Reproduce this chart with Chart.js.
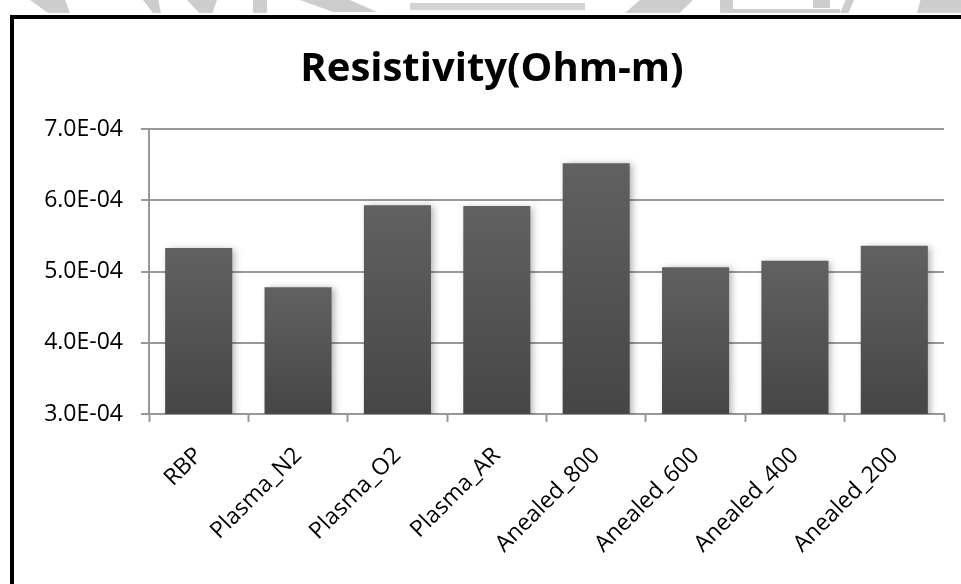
<!DOCTYPE html>
<html>
<head>
<meta charset="utf-8">
<script src="https://cdn.jsdelivr.net/npm/chart.js@4/dist/chart.umd.min.js"></script>
<style>
  html, body { margin: 0; padding: 0; background: #fff; overflow: hidden; }
  #wrap { position: relative; width: 961px; height: 584px; }
  .wm { position: absolute; background: #cdcdcd; }
  #frame {
    position: absolute; left: 10px; top: 15px; width: 1000px; height: 700px;
    border-left: 4px solid #000; border-top: 4px solid #000;
  }
  #chartBox { position: absolute; left: 0; top: 0; width: 961px; height: 584px; }
</style>
</head>
<body>
<div id="wrap">
  <!-- faint watermark strip above the frame -->
  <div class="wm" style="left:30px;top:0;width:40px;height:13px;clip-path:polygon(0 0,88% 0,100% 100%,45% 100%)"></div>
  <div class="wm" style="left:143px;top:0;width:18px;height:13px;clip-path:polygon(0 0,85% 0,100% 100%,55% 100%)"></div>
  <div class="wm" style="left:187px;top:0;width:30px;height:13px;clip-path:polygon(0 0,100% 0,85% 100%,40% 100%)"></div>
  <div class="wm" style="left:253px;top:0;width:14px;height:13px"></div>
  <div class="wm" style="left:300px;top:0;width:77px;height:12px;clip-path:polygon(0 0,65% 0,100% 100%,43% 100%)"></div>
  <div class="wm" style="left:410px;top:3px;width:175px;height:7px;background:#d4d4d4"></div>
  <div class="wm" style="left:625px;top:0;width:68px;height:13px;clip-path:polygon(22% 0,100% 0,80% 100%,0 100%)"></div>
  <div class="wm" style="left:720px;top:0;width:13px;height:13px"></div>
  <div class="wm" style="left:733px;top:9px;width:107px;height:4px"></div>
  <div class="wm" style="left:813px;top:0;width:17px;height:8px"></div>
  <div class="wm" style="left:840px;top:0;width:14px;height:13px;clip-path:polygon(40% 0,100% 0,60% 100%,0 100%)"></div>
  <div class="wm" style="left:917px;top:0;width:44px;height:13px;clip-path:polygon(8% 0,100% 0,100% 100%,0 100%)"></div>
  <div id="frame"></div>
  <div id="chartBox"><canvas id="resistivityChart"></canvas></div>
</div>
<script>
// Data
const categories = ['RBP', 'Plasma_N2', 'Plasma_O2', 'Plasma_AR', 'Anealed_800', 'Anealed_600', 'Anealed_400', 'Anealed_200'];
const resistivity = [5.33e-4, 4.78e-4, 5.93e-4, 5.92e-4, 6.52e-4, 5.06e-4, 5.15e-4, 5.36e-4];
const yTickValues = [3.0e-4, 4.0e-4, 5.0e-4, 6.0e-4, 7.0e-4];
const yTickLabels = ['3.0E-04', '4.0E-04', '5.0E-04', '6.0E-04', '7.0E-04'];
const chartTitle = 'Resistivity(Ohm-m)';

const axisGray = '#989898';

// Each bar gets its own vertical gradient, lighter at the top
function barGradient(context) {
  const chart = context.chart;
  if (!chart.chartArea || context.raw === undefined) return '#555555';
  const yScale = chart.scales.y;
  const top = yScale.getPixelForValue(context.raw);
  const bottom = yScale.getPixelForValue(yScale.min);
  const g = chart.ctx.createLinearGradient(0, top, 0, bottom);
  g.addColorStop(0, '#616161');
  g.addColorStop(1, '#464646');
  return g;
}

// Soft drop shadow behind the bars
const barShadow = {
  id: 'barShadow',
  beforeDatasetsDraw(chart) {
    const ctx = chart.ctx;
    ctx.save();
    ctx.shadowColor = 'rgba(0,0,0,0.3)';
    ctx.shadowBlur = 7;
    ctx.shadowOffsetX = 3;
    ctx.shadowOffsetY = 1;
  },
  afterDatasetsDraw(chart) {
    chart.ctx.restore();
  }
};

function initChart() {
  const ctx = document.getElementById('resistivityChart').getContext('2d');
  new Chart(ctx, {
    type: 'bar',
    data: {
      labels: categories,
      datasets: [{
        label: chartTitle,
        data: resistivity,
        backgroundColor: barGradient,
        borderWidth: 0,
        categoryPercentage: 1,
        barPercentage: 0.675
      }]
    },
    options: {
      responsive: true,
      maintainAspectRatio: false,
      animation: false,
      layout: {
        padding: { left: 40, right: 17, top: 0, bottom: 0 }
      },
      plugins: {
        legend: { display: false },
        tooltip: { enabled: false },
        title: {
          display: true,
          text: chartTitle,
          color: '#000',
          font: { family: 'Open Sans', size: 40, weight: 'bold' },
          padding: { top: 46, bottom: 35 }
        }
      },
      scales: {
        x: {
          grid: {
            drawOnChartArea: false,
            drawTicks: true,
            tickLength: 8,
            tickColor: axisGray,
            tickWidth: 2
          },
          border: { display: true, color: axisGray, width: 2 },
          ticks: {
            color: '#000',
            font: { family: 'Open Sans', size: 23 },
            minRotation: 45,
            maxRotation: 45,
            padding: 20
          },
          afterFit(scale) { scale.height = 170; }
        },
        y: {
          min: 3.0e-4,
          max: 7.0e-4,
          afterBuildTicks(scale) {
            scale.ticks = yTickValues.map(v => ({ value: v }));
          },
          grid: {
            color: axisGray,
            lineWidth: 2,
            tickLength: 8,
            tickColor: axisGray,
            tickWidth: 2
          },
          border: { display: true, color: axisGray, width: 2 },
          ticks: {
            color: '#000',
            font: { family: 'Open Sans', size: 23 },
            padding: 18,
            callback: (value, index) => yTickLabels[index]
          },
          afterFit(scale) { scale.width = 109; }
        }
      }
    },
    plugins: [barShadow]
  });
}

document.addEventListener('DOMContentLoaded', initChart);
</script>
</body>
</html>
